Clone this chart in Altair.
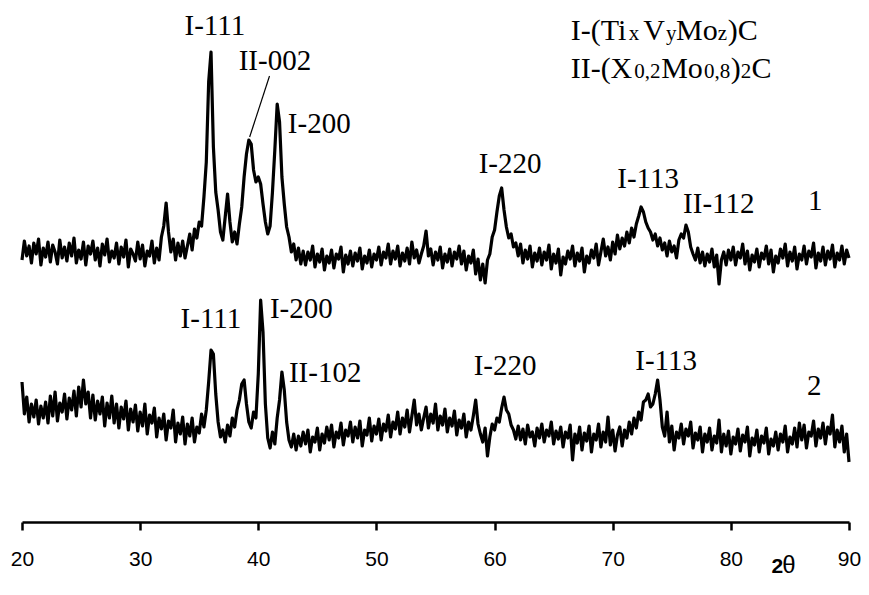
import altair as alt
import pandas as pd

# XRD scan: start angle and step (degrees 2-theta)
X_START = 20.0
X_STEP = 0.2

# Pattern 1 (offset intensity, a.u.)
trace1 = [
    262, 281, 266, 276, 259, 279, 268, 283, 257, 274,
    265, 280, 260, 277, 270, 258, 282, 264, 275, 261,
    279, 266, 284, 259, 272, 263, 280, 257, 276, 268,
    281, 262, 274, 256, 278, 267, 283, 260, 271, 264,
    279, 258, 275, 265, 282, 255, 273, 268, 261, 280,
    263, 277, 256, 271, 266, 281, 259, 274, 262, 285,
    296, 319, 290, 270, 283, 262, 279, 266, 281, 264,
    276, 288, 272, 293, 284, 300, 296, 325, 360, 440,
    470, 375, 330, 312, 290, 282, 305, 328, 300, 280,
    290, 278, 298, 315, 345, 368, 382, 378, 352, 340,
    345, 338, 318, 300, 288, 296, 330, 372, 418, 400,
    345, 318, 295, 285, 270, 278, 262, 274, 258, 271,
    257, 270, 262, 276, 255, 268, 260, 273, 252, 266,
    259, 272, 254, 268, 263, 275, 250, 267, 258, 271,
    256, 269, 261, 274, 253, 266, 259, 272, 255, 268,
    262, 275, 257, 270, 264, 278, 258, 271, 263, 276,
    256, 269, 261, 274, 258, 280, 264, 272, 259, 268,
    276, 291, 266, 273, 257, 270, 262, 275, 254, 268,
    260, 273, 256, 270, 263, 276, 258, 271, 252, 266,
    259, 272, 248, 263, 242, 258, 239, 262, 268, 285,
    292, 310, 326, 334, 312, 295, 284, 288, 275, 279,
    266, 278, 259, 272, 263, 276, 255, 269, 261, 274,
    257, 270, 262, 277, 253, 268, 259, 273, 247, 265,
    258, 271, 263, 276, 256, 269, 261, 274, 250, 266,
    259, 272, 264, 278, 257, 270, 283, 266, 275, 262,
    280, 268, 287, 273, 284, 276, 290, 279, 294, 285,
    298, 306, 315, 310, 300, 294, 290, 282, 288, 276,
    284, 272, 279, 266, 281, 270, 276, 264, 282, 288,
    284, 297, 290, 275, 268, 262, 274, 259, 270, 256,
    268, 260, 273, 255, 267, 238, 262, 270, 257, 272,
    262, 275, 257, 270, 264, 278, 258, 271, 252, 267,
    260, 273, 255, 269, 263, 276, 258, 272, 250, 266,
    259, 273, 264, 278, 256, 270, 261, 275, 253, 268,
    262, 276, 258, 271, 265, 279, 254, 269, 261, 275,
    257, 271, 263, 277, 255, 269, 262, 276, 258, 272,
    264,
]

# Pattern 2 (offset intensity, a.u.)
trace2 = [
    140, 108, 125, 100, 118, 105, 122, 98, 116, 104,
    120, 99, 126, 106, 130, 101, 119, 110, 128, 103,
    124, 112, 131, 106, 135, 115, 142, 118, 130, 104,
    127, 102, 121, 108, 125, 96, 119, 104, 126, 99,
    118, 94, 115, 103, 121, 92, 113, 100, 117, 91,
    110, 96, 118, 88, 107, 99, 114, 85, 104, 93,
    108, 82, 101, 94, 112, 80, 99, 88, 105, 78,
    98, 86, 104, 80, 95, 89, 108, 95, 112, 140,
    172, 168, 128, 100, 85, 92, 80, 97, 86, 104,
    95, 112, 122, 138, 142, 118, 100, 94, 110, 104,
    148, 222, 190, 118, 84, 74, 90, 78, 104, 122,
    150, 132, 100, 82, 75, 88, 72, 86, 76, 90,
    78, 92, 70, 85, 80, 94, 72, 88, 79, 95,
    82, 97, 75, 90, 84, 99, 77, 92, 86, 100,
    80, 95, 84, 101, 76, 92, 87, 104, 81, 96,
    88, 103, 82, 98, 91, 107, 85, 100, 93, 110,
    88, 104, 95, 112, 90, 106, 122, 97, 108, 92,
    104, 115, 94, 108, 99, 118, 92, 106, 97, 113,
    90, 104, 96, 111, 87, 102, 94, 108, 85, 100,
    92, 106, 122, 98, 88, 80, 94, 66, 85, 98,
    92, 104, 100, 114, 125, 112, 108, 97, 92, 83,
    96, 82, 93, 78, 97, 85, 90, 76, 94, 84,
    98, 80, 92, 86, 100, 78, 91, 83, 95, 75,
    90, 84, 97, 62, 88, 79, 95, 72, 89, 81,
    96, 70, 88, 82, 98, 75, 90, 80, 105, 77,
    92, 71, 87, 95, 76, 92, 84, 100, 88, 104,
    94, 110, 102, 120, 122, 128, 115, 118, 128, 142,
    122, 95, 86, 110, 80, 96, 72, 90, 84, 98,
    78, 93, 86, 100, 74, 89, 82, 95, 70, 88,
    80, 94, 72, 86, 79, 102, 70, 88, 76, 91,
    68, 85, 78, 93, 71, 87, 80, 95, 66, 84,
    77, 92, 70, 86, 79, 94, 68, 83, 76, 90,
    72, 88, 80, 96, 70, 85, 78, 94, 75, 99,
    82, 97, 74, 90, 86, 101, 76, 93, 84, 99,
    78, 95, 88, 107, 75, 92, 80, 96, 70, 88,
    60,
]

# Peak labels
peak_text = ["I-111", "II-002", "I-200", "I-220", "I-113", "II-112", "1",
             "I-111", "I-200", "II-102", "I-220", "I-113", "2"]
peak_x = [36.32, 41.41, 45.16, 61.31, 73.0, 78.98, 87.14,
          35.99, 43.64, 45.66, 60.89, 74.52, 87.05]
peak_y = [487, 452, 389, 349, 334, 309, 312,
          194, 204, 140, 147, 152, 127]

# Phase legend pieces (large / small characters)
big_text = ["I-(Ti", "V", "Mo", ")C", "II-(X", "Mo", ")", "C"]
big_x = [66.44, 72.58, 75.36, 79.74, 66.44, 74.10, 79.99, 81.75]
big_y = [482, 482, 482, 482, 444, 444, 444, 444]
small_text = ["x", "y", "z", "0,2", "0,8", "2"]
small_x = [71.35, 74.52, 78.89, 71.83, 77.72, 80.83]
small_y = [482, 482, 482, 444, 444, 444]

ticks = [20, 30, 40, 50, 60, 70, 80, 90]

n1 = len(trace1)
n2 = len(trace2)
df_lines = pd.DataFrame({
    "theta": [round(X_START + X_STEP * i, 1) for i in range(n1)]
             + [round(X_START + X_STEP * i, 1) for i in range(n2)],
    "I": trace1 + trace2,
    "s": ["1"] * n1 + ["2"] * n2,
})

xs = alt.Scale(domain=[20, 90], nice=False, zero=False)
ys = alt.Scale(domain=[0, 512], nice=False, zero=False)

lines = alt.Chart(df_lines).mark_line(
    color="black", strokeWidth=3.2, strokeJoin="round"
).encode(
    x=alt.X("theta:Q", scale=xs, title=None,
            axis=alt.Axis(values=ticks, grid=False, tickSize=8, tickWidth=2.5,
                          domainWidth=2.5, domainColor="black", tickColor="black",
                          labelColor="black", labelFont="Liberation Sans",
                          labelFontSize=21, labelPadding=18, labelFlush=False)),
    y=alt.Y("I:Q", scale=ys, axis=None),
    detail="s:N",
)

df_peaks = pd.DataFrame({"x": peak_x, "y": peak_y, "t": peak_text})
peaks = alt.Chart(df_peaks).mark_text(
    font="Liberation Serif", fontSize=29, color="black", align="center",
    baseline="alphabetic"
).encode(x=alt.X("x:Q", scale=xs), y=alt.Y("y:Q", scale=ys), text="t:N")

df_lead = pd.DataFrame({"x": [40.95], "y": [446], "x2": [39.27], "y2": [385]})
lead = alt.Chart(df_lead).mark_rule(color="black", strokeWidth=1.2).encode(
    x=alt.X("x:Q", scale=xs), y=alt.Y("y:Q", scale=ys), x2="x2:Q", y2="y2:Q"
)

df_big = pd.DataFrame({"x": big_x, "y": big_y, "t": big_text})
big = alt.Chart(df_big).mark_text(
    font="Liberation Serif", fontSize=30, color="black", align="left",
    baseline="alphabetic"
).encode(x=alt.X("x:Q", scale=xs), y=alt.Y("y:Q", scale=ys), text="t:N")

df_small = pd.DataFrame({"x": small_x, "y": small_y, "t": small_text})
small = alt.Chart(df_small).mark_text(
    font="Liberation Serif", fontSize=21, color="black", align="left",
    baseline="alphabetic"
).encode(x=alt.X("x:Q", scale=xs), y=alt.Y("y:Q", scale=ys), text="t:N")

df_two = pd.DataFrame({"x": [83.44], "y": [-51], "t": ["2"]})
two = alt.Chart(df_two).mark_text(
    font="Liberation Sans", fontSize=21, fontWeight="bold", color="black",
    align="left", baseline="alphabetic"
).encode(x=alt.X("x:Q", scale=xs), y=alt.Y("y:Q", scale=ys), text="t:N")

df_th = pd.DataFrame({"x": [84.36], "y": [-51], "t": ["θ"]})
th = alt.Chart(df_th).mark_text(
    font="Liberation Sans", fontSize=24, color="black",
    align="left", baseline="alphabetic"
).encode(x=alt.X("x:Q", scale=xs), y=alt.Y("y:Q", scale=ys), text="t:N")

chart = alt.layer(lines, lead, peaks, big, small, two, th).properties(
    width=827, height=512,
    autosize=alt.AutoSizeParams(type="none"),
    padding={"left": 14, "top": 2, "right": 12, "bottom": 60},
).configure_view(stroke=None)

chart.save("out.html", embed_options={"renderer": "svg", "actions": False})
